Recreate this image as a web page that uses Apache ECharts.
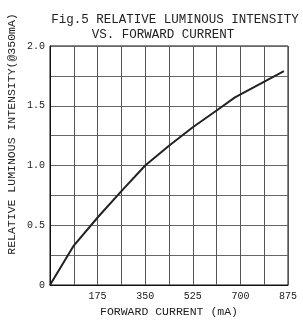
<!DOCTYPE html>
<html>
<head>
<meta charset="utf-8">
<script src="https://cdn.jsdelivr.net/npm/echarts@6/dist/echarts.min.js"></script>
<style>
html, body { margin: 0; padding: 0; background: #fff; }
#chart { width: 303px; height: 323px; }
</style>
</head>
<body>
<div id="chart"></div>
<script>
// current (mA) and relative intensity
var current = [0, 87.5, 175, 262.5, 350, 437.5, 525, 612.5, 680, 860];
var intensity = [0, 0.33, 0.565, 0.785, 1.0, 1.165, 1.32, 1.46, 1.57, 1.79];
var xLabels = [175, 350, 525, 700, 875];
var yLabels = [0, 0.5, 1.0, 1.5, 2.0];

var pts = [];
for (var i = 0; i < current.length; i++) {
	pts.push([current[i], intensity[i]]);
}

var mono = "'Liberation Mono', 'DejaVu Sans Mono', monospace";
var dom = document.getElementById('chart');
var myChart = echarts.init(dom);

var option = {
	animation: false,
	backgroundColor: '#fff',
	title: [{
		text: 'Fig.5 RELATIVE LUMINOUS INTENSITY',
		left: 170,
		top: 8,
		textAlign: 'center',
		textStyle: { fontFamily: mono, fontSize: 12.5, fontWeight: 'normal', color: '#222' }
	}, {
		text: 'VS. FORWARD CURRENT',
		left: 158,
		top: 23,
		textAlign: 'center',
		textStyle: { fontFamily: mono, fontSize: 12.5, fontWeight: 'normal', color: '#222' }
	}],
	grid: {
		left: 50,
		right: 15,
		top: 46,
		bottom: 36,
		show: true,
		borderColor: '#111',
		borderWidth: 1
	},
	xAxis: {
		type: 'value',
		min: 0,
		max: 875,
		interval: 87.5,
		name: 'FORWARD CURRENT (mA)',
		nameLocation: 'middle',
		nameGap: 21,
		nameTextStyle: { fontFamily: mono, fontSize: 11.5, color: '#222' },
		axisLine: { show: true, lineStyle: { color: '#111' } },
		axisTick: { show: false },
		axisLabel: {
			fontFamily: mono,
			fontSize: 10,
			color: '#222',
			margin: 6,
			formatter: function (v) {
				return xLabels.indexOf(v) >= 0 ? String(v) : '';
			}
		},
		splitLine: { show: true, lineStyle: { color: '#555', width: 1 } }
	},
	yAxis: {
		type: 'value',
		min: 0,
		max: 2,
		interval: 0.25,
		axisLine: { show: true, lineStyle: { color: '#111' } },
		axisTick: { show: false },
		axisLabel: {
			fontFamily: mono,
			fontSize: 10,
			color: '#222',
			margin: 5,
			formatter: function (v) {
				if (yLabels.indexOf(v) < 0) return '';
				return v === 0 ? '0' : v.toFixed(1);
			}
		},
		splitLine: { show: true, lineStyle: { color: '#666', width: 1 } }
	},
	graphic: [{
		type: 'text',
		x: 12,
		y: 134,
		rotation: Math.PI / 2,
		style: {
			text: 'RELATIVE LUMINOUS INTENSITY(@350mA)',
			fontFamily: mono,
			fontSize: 11.5,
			fill: '#222',
			align: 'center',
			verticalAlign: 'middle'
		}
	}],
	series: [{
		type: 'line',
		data: pts,
		symbol: 'none',
		smooth: false,
		lineStyle: { color: '#222', width: 2 }
	}]
};

myChart.setOption(option, true);
</script>
</body>
</html>
